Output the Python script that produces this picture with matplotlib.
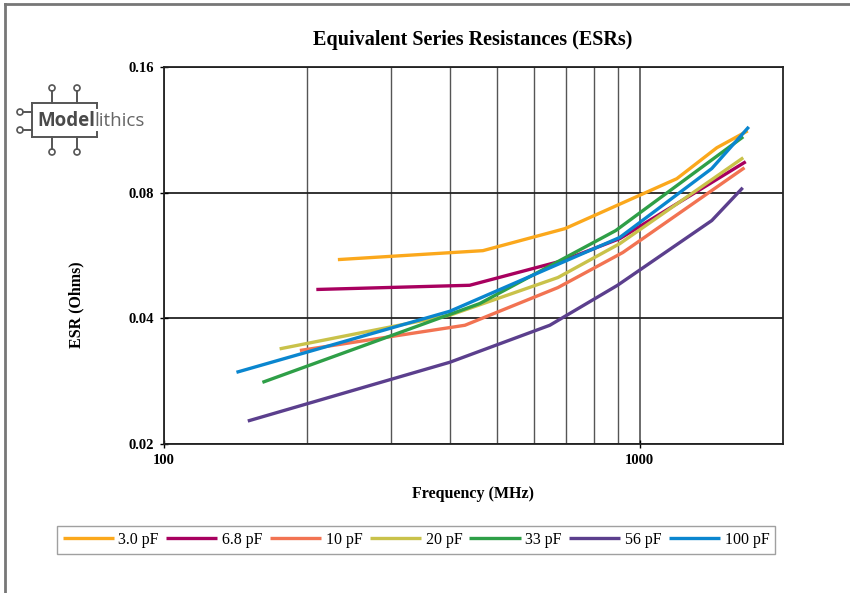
import numpy as np
import matplotlib
matplotlib.use("Agg")
import matplotlib.pyplot as plt
from matplotlib.ticker import FixedLocator, FixedFormatter, NullFormatter
from matplotlib.patches import Circle

# data (frequency in MHz, ESR in Ohms)
freq_3p0 = [232, 468, 696, 1196, 1452, 1686]
esr_3p0 = [0.0553, 0.0581, 0.0656, 0.0864, 0.1025, 0.1125]
freq_6p8 = [209, 439, 689, 908, 1670]
esr_6p8 = [0.0469, 0.0480, 0.0550, 0.0621, 0.0949]
freq_10 = [193, 429, 673, 921, 1660]
esr_10 = [0.0335, 0.0385, 0.0474, 0.0575, 0.0918]
freq_20 = [175, 399, 673, 908, 1650]
esr_20 = [0.0338, 0.0407, 0.0501, 0.0604, 0.0970]
freq_33 = [161, 461, 890, 1650]
esr_33 = [0.0281, 0.0434, 0.0649, 0.1089]
freq_56 = [150, 399, 647, 898, 1417, 1646]
esr_56 = [0.0227, 0.0314, 0.0385, 0.0480, 0.0686, 0.0822]
freq_100 = [142, 399, 908, 1417, 1695]
esr_100 = [0.0297, 0.0416, 0.0625, 0.0914, 0.1150]

labels = ["3.0 pF", "6.8 pF", "10 pF", "20 pF", "33 pF", "56 pF", "100 pF"]
colors = ["#FBA81C", "#A8005F", "#F27352", "#C9C24A", "#2E9F47", "#5B3F8D", "#0A86CF"]
series = [(freq_3p0, esr_3p0), (freq_6p8, esr_6p8), (freq_10, esr_10),
          (freq_20, esr_20), (freq_33, esr_33), (freq_56, esr_56),
          (freq_100, esr_100)]

y_ticks = [0.02, 0.04, 0.08, 0.16]
y_tick_labels = ["0.02", "0.04", "0.08", "0.16"]
x_ticks = [100, 1000]
x_tick_labels = ["100", "1000"]
x_minor = [200, 300, 400, 500, 600, 700, 800, 900]

serif = ["Liberation Serif", "DejaVu Serif"]

W, H = 850, 593
fig = plt.figure(figsize=(W / 100, H / 100), dpi=100)

# overlay in pixel coords for frame + logo
deco = fig.add_axes([0, 0, 1, 1], zorder=0)
deco.set_xlim(0, W)
deco.set_ylim(H, 0)
deco.axis("off")
deco.plot([5, 5], [4, H], color="#777777", lw=2)
deco.plot([5, W], [4, 4], color="#777777", lw=2)

# Modelithics logo
lc = "#555555"
deco.plot([32, 97], [103, 103], color=lc, lw=1.4)
deco.plot([32, 97], [137, 137], color=lc, lw=1.4)
deco.plot([32, 32], [103, 137], color=lc, lw=1.4)
deco.plot([97, 97], [103, 108], color=lc, lw=1.4)
deco.plot([97, 97], [132, 137], color=lc, lw=1.4)
for px in (52, 77):
    deco.plot([px, px], [91, 103], color=lc, lw=1.4)
    deco.plot([px, px], [137, 149], color=lc, lw=1.4)
    deco.add_patch(Circle((px, 88), 3, fill=False, ec=lc, lw=1.2))
    deco.add_patch(Circle((px, 152), 3, fill=False, ec=lc, lw=1.2))
for py in (112, 130):
    deco.plot([23, 32], [py, py], color=lc, lw=1.4)
    deco.add_patch(Circle((20, py), 3, fill=False, ec=lc, lw=1.2))
deco.text(37, 121, "Model", fontsize=13.5, fontweight="bold", color="#4a4a4a",
          family="Open Sans", va="center", ha="left")
deco.text(94, 121, "lithics", fontsize=13.5, color="#666666",
          family="Open Sans", va="center", ha="left")

ax = fig.add_axes([164 / W, 1 - 444 / H, (783 - 164) / W, (444 - 67) / H], zorder=1)
ax.set_facecolor("none")
for (f, e), c, lab in zip(series, colors, labels):
    ax.plot(f, e, color=c, lw=2.4, label=lab, solid_capstyle="butt")

ax.set_xscale("log")
ax.set_yscale("log", base=2)
ax.set_xlim(100, 2000)
ax.set_ylim(0.02, 0.16)

ax.xaxis.set_major_locator(FixedLocator(x_ticks))
ax.xaxis.set_major_formatter(FixedFormatter(x_tick_labels))
ax.xaxis.set_minor_locator(FixedLocator(x_minor))
ax.xaxis.set_minor_formatter(NullFormatter())
ax.yaxis.set_major_locator(FixedLocator(y_ticks))
ax.yaxis.set_major_formatter(FixedFormatter(y_tick_labels))
ax.yaxis.set_minor_locator(FixedLocator([]))

ax.grid(True, which="major", axis="y", color="#222222", lw=1.3)
ax.grid(True, which="major", axis="x", color="#444444", lw=1.1)
ax.grid(True, which="minor", axis="x", color="#555555", lw=1.0)
ax.set_axisbelow(True)
for sp in ax.spines.values():
    sp.set_color("#222222")
    sp.set_linewidth(1.3)

ax.tick_params(which="major", direction="inout", length=6, width=1.0, pad=4,
               labelsize=10.5)
ax.tick_params(which="minor", length=0)
for t in ax.get_xticklabels() + ax.get_yticklabels():
    t.set_family(serif)
    t.set_fontweight("bold")

ax.set_xlabel("Frequency (MHz)", family=serif, fontweight="bold", fontsize=11.5,
              labelpad=14)
ax.set_ylabel("ESR (Ohms)", family=serif, fontweight="bold", fontsize=11.5)
ax.yaxis.set_label_coords(-0.128, 0.37)
fig.text(473 / W, 1 - 40 / H, "Equivalent Series Resistances (ESRs)", ha="center",
         va="center", family=serif, fontweight="bold", fontsize=14.5)

leg = fig.legend(loc="center", bbox_to_anchor=(416 / W, 1 - 540 / H), ncol=7,
                 frameon=True, fancybox=False, edgecolor="#888888",
                 prop={"family": serif, "size": 11.5}, handlelength=3.2,
                 handletextpad=0.3, columnspacing=0.45, borderpad=0.35)
leg.get_frame().set_linewidth(1.0)

fig.savefig("out.png", dpi=100)
